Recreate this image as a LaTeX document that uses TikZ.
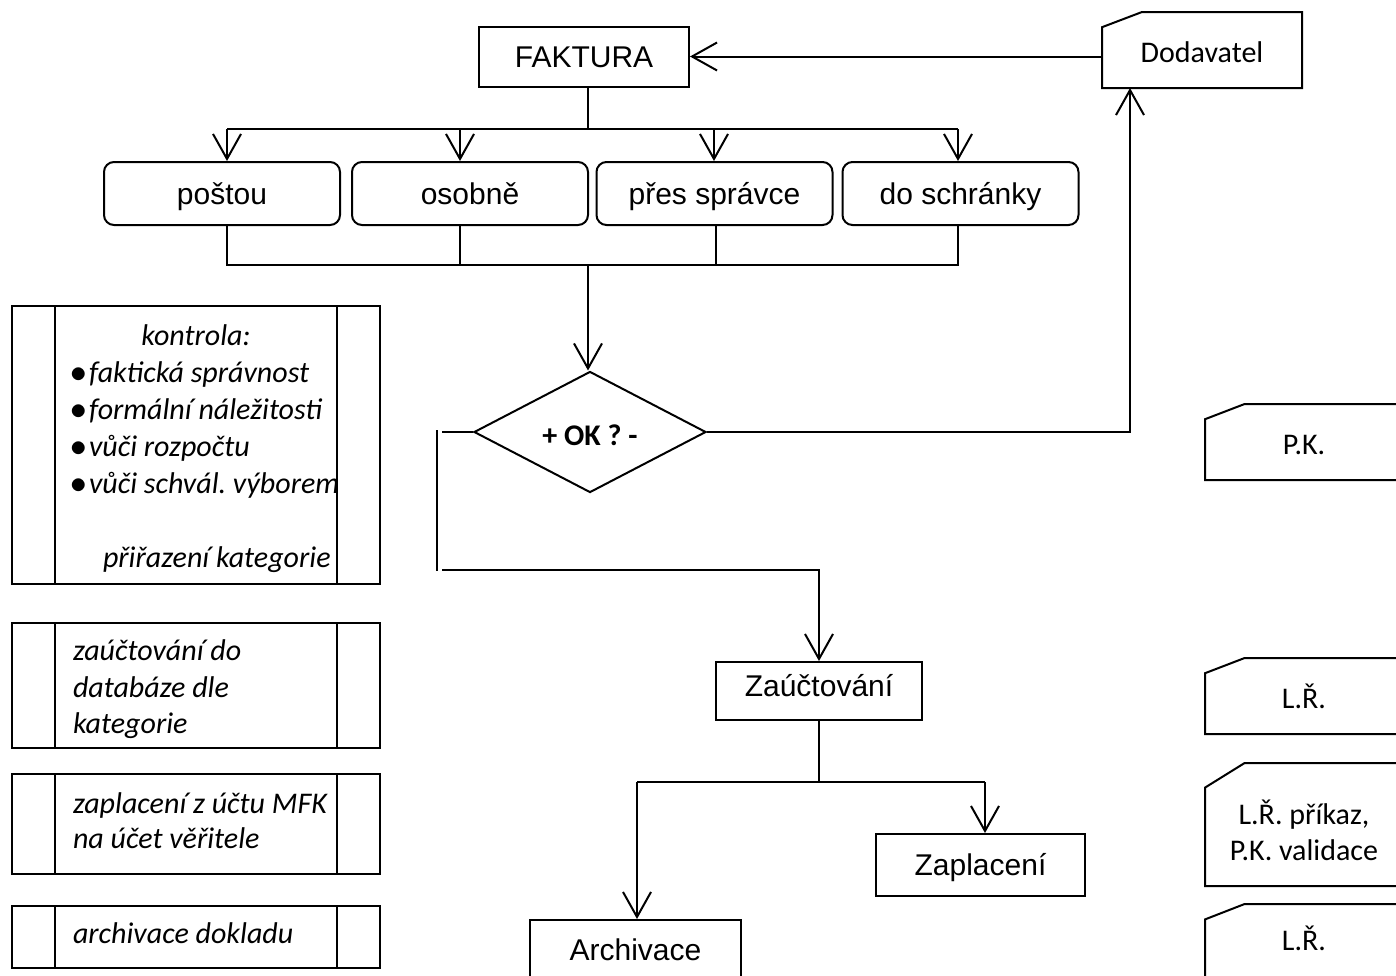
\documentclass[tikz,border=0pt]{standalone}
\usepackage{fontspec}
\setmainfont{Liberation Sans}
\newfontfamily\calibri{Carlito}
\usetikzlibrary{arrows.meta,shapes.geometric,calc}
\frenchspacing

\newcommand{\flowsize}{\fontsize{15}{18}\selectfont}
\newcommand{\dotitem}{\makebox[9.5pt][l]{\scalebox{1.15}{$\bullet$}}}

% card outline: rectangle with the upper left corner cut off
\newcommand{\cardedge}[1]{%
  \draw (#1.south west) -- ($(#1.north west)!0.2!(#1.south west)$)
        -- ($(#1.north west)!0.2!(#1.north east)$) -- (#1.north east)
        -- (#1.south east) -- cycle;}
% side bars of a predefined process box
\newcommand{\sidebars}[1]{%
  \draw ($(#1.north west)+(44,0)$) -- ($(#1.south west)+(44,0)$);
  \draw ($(#1.north east)+(-44,0)$) -- ($(#1.south east)+(-44,0)$);}

\tikzset{
  box/.style={draw, rectangle, inner sep=0pt, font=\flowsize,
    text height=10.5pt, text depth=0pt},
  way/.style={box, rounded corners=5pt, minimum width=118pt, minimum height=31.5pt},
  decide/.style={draw, diamond, inner sep=0pt, minimum width=116pt,
    minimum height=47pt, font=\calibri\bfseries\flowsize,
    text height=13pt, text depth=0pt},
  card/.style={inner sep=0pt, minimum width=98pt},
  cardtext/.style={anchor=base, inner sep=0pt, font=\calibri\flowsize},
  subproc/.style={draw, rectangle, inner sep=0pt, minimum width=184pt},
  note/.style={anchor=base west, inner sep=0pt, font=\calibri\itshape\flowsize},
}

\begin{document}
\begin{tikzpicture}[x=0.5pt, y=-0.5pt, line width=1pt,
    >={Straight Barb[length=12.5pt,width=14pt]}]
  \fill[white] (0,0) rectangle (1396,975);
  \useasboundingbox (0,0) rectangle (1396,975);
  \clip (0,0) rectangle (1396,975);

  \node[box, minimum width=105pt, minimum height=30pt] (fak) at (584,56.5) {FAKTURA};
  \node[card, minimum width=99pt, minimum height=37pt] (dod) at (1202,50) {};
  \node[cardtext] (dodt) at (1202,62) {Dodavatel};

  \node[way] (post) at (222,193.5) {poštou};
  \node[way] (osob) at (470,193.5) {osobně};
  \node[way] (sprav) at (714.5,193.5) {přes správce};
  \node[way] (schr) at (960.5,193.5) {do schránky};

  \node[decide] (ok) at (590,432) {+ OK ? -};

  \node[box, minimum width=103pt, minimum height=29pt, text depth=5pt] (zau) at (819,691) {Zaúčtování};
  \node[box, minimum width=104.5pt, minimum height=31pt] (zapl) at (980.5,865) {Zaplacení};
  \node[box, minimum width=105.5pt, minimum height=30pt] (arch) at (635.5,950) {Archivace};

  % right column
  \node[card, minimum height=37pt] (pk) at (1304,442) {};
  \node[card, minimum height=37pt] (lr) at (1304,696) {};
  \node[card, minimum height=60.5pt] (lrpk) at (1304,824.5) {};
  \node[card, minimum height=37.5pt] (lr2) at (1304,942.5) {};
  \node[cardtext] (pkt) at (1304,454) {P.K.};
  \node[cardtext] (lrt) at (1304,708) {L.Ř.};
  \node[cardtext] (lrpkt1) at (1304,824) {L.Ř. příkaz,};
  \node[cardtext] (lrpkt2) at (1304,860) {P.K. validace};
  \node[cardtext] (lr2t) at (1304,950) {L.Ř.};
  \cardedge{dod}
  \cardedge{pk}
  \cardedge{lr}
  \cardedge{lrpk}
  \cardedge{lr2}

  % left column
  \node[subproc, minimum height=139pt] (sub1) at (196,445) {};
  \node[subproc, minimum height=62.5pt] (sub2) at (196,685.5) {};
  \node[subproc, minimum height=50pt] (sub3) at (196,824) {};
  \node[subproc, minimum height=31pt] (sub4) at (196,937) {};
  \sidebars{sub1}
  \sidebars{sub2}
  \sidebars{sub3}
  \sidebars{sub4}

  \node[note, anchor=base] (k0) at (196,345) {kontrola:};
  \node[note] (k1) at (69,382) {\dotitem faktická správnost};
  \node[note] (k2) at (69,419) {\dotitem formální náležitosti};
  \node[note] (k3) at (69,456) {\dotitem vůči rozpočtu};
  \node[note] (k4) at (69,493) {\dotitem vůči schvál. výborem};
  \node[note] (k5) at (102,567) {přiřazení kategorie};
  \node[note] (z1) at (72,660) {zaúčtování do};
  \node[note] (z2) at (72,697) {databáze dle};
  \node[note] (z3) at (72,733) {kategorie};
  \node[note] (p1) at (72,813) {zaplacení z účtu MFK};
  \node[note] (p2) at (72,848) {na účet věřitele};
  \node[note] (a1) at (72,943) {archivace dokladu};

  % connectors
  \coordinate (ft) at (588,129);
  \coordinate (t1) at (227,129);
  \coordinate (t2) at (460,129);
  \coordinate (t3) at (714,129);
  \coordinate (t4) at (958,129);
  \coordinate (u1) at (227,265);
  \coordinate (u2) at (460,265);
  \coordinate (u3) at (716,265);
  \coordinate (u4) at (958,265);
  \coordinate (mid) at (588,265);
  \coordinate (rt) at (1130,432);
  \coordinate (lt) at (442,432);
  \coordinate (la) at (437,430);
  \coordinate (lc) at (437,571);
  \coordinate (lb) at (442,570);
  \coordinate (bl) at (637,782);
  \coordinate (br) at (985,782);

  \draw[->] (dod.west |- fak.east) -- (fak.east);
  \draw (ft |- fak.south) -- (ft);
  \draw (t1) -- (t4);
  \draw[->] (t1) -- (t1 |- post.north);
  \draw[->] (t2) -- (t2 |- osob.north);
  \draw[->] (t3) -- (t3 |- sprav.north);
  \draw[->] (t4) -- (t4 |- schr.north);

  \draw (u1 |- post.south) -- (u1) -- (u4) -- (u4 |- schr.south);
  \draw (u2 |- osob.south) -- (u2);
  \draw (u3 |- sprav.south) -- (u3);
  \draw[->] (mid) -- (mid |- ok.north);

  \draw[->] (ok.east) -- (rt) -- (rt |- dod.south);
  \draw (ok.west) -- (lt);
  \draw (la) -- (lc);
  \draw[->] (lb) -| (zau.north);

  \draw (zau.south) -- (zau.south |- bl);
  \draw (bl) -- (br);
  \draw[->] (bl) -- (bl |- arch.north);
  \draw[->] (br) -- (br |- zapl.north);
\end{tikzpicture}
\end{document}
